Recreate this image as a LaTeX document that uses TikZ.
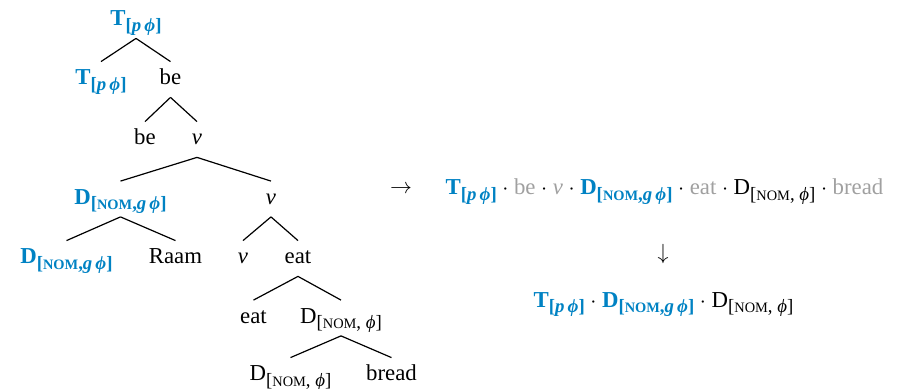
\documentclass[tikz,border=0pt]{standalone}
\usepackage{fontspec}
\setmainfont{Liberation Serif}
\definecolor{tblue}{RGB}{0,130,195}
\definecolor{tgray}{RGB}{160,160,160}
\newcommand\phig{ϕ}
\newcommand\subs[1]{\raisebox{-0.22em}{\fontsize{9.4}{10}\selectfont #1}}
\newcommand\scn[1]{{\fontsize{7.2}{8}\selectfont #1}}
\newcommand\Tp{\textcolor{tblue}{\textbf{T\subs{[\textit{p}\,\textit{\phig}]}}}}
\newcommand\Dng{\textcolor{tblue}{\textbf{D\subs{[\scn{NOM},\textit{g}\,\textit{\phig}]}}}}
\newcommand\Dn{D\subs{[\scn{NOM}, \textit{\phig}]}}
\newcommand\dt{\hspace{2.8pt}$\cdot$\hspace{2.8pt}}
\newcommand\gr[1]{\textcolor{tgray}{#1}}
\begin{document}
\begin{tikzpicture}[x=0.5pt,y=-0.5pt,
  font=\fontsize{11.4}{13.7}\selectfont,
  tn/.style={anchor=base, inner xsep=0pt, inner ysep=1.5pt, text height=10pt, text depth=4.5pt},
  txt/.style={anchor=base, inner sep=0pt},
  edge/.style={line width=0.6pt}]
\useasboundingbox (0,0) rectangle (907,389);
% tree
\node[tn] (r) at (136,26) {\Tp};
\node[tn] (a) at (101,85) {\Tp};
\node[tn] (b) at (170.5,85) {be};
\node[tn] (c) at (145,145) {be};
\node[tn] (d) at (197,145) {\textit{v}};
\node[tn] (e) at (120.5,204.5) {\Dng};
\node[tn] (f) at (271,204.5) {\textit{v}};
\node[tn] (g) at (66.5,264) {\Dng};
\node[tn] (h) at (175.5,264) {Raam};
\node[tn] (i) at (243,264) {\textit{v}};
\node[tn] (j) at (298,264) {eat};
\node[tn] (k) at (253.5,323.5) {eat};
\node[tn] (l) at (341,323.5) {\Dn};
\node[tn] (m) at (290.5,381) {\Dn};
\node[tn] (n) at (391.5,381) {bread};
\foreach \p/\c in {r/a,r/b,b/c,b/d,d/e,d/f,e/g,e/h,f/i,f/j,j/k,j/l,l/m,l/n}
  \draw[edge] (\p.south) -- (\c.north);
% right side
\node[txt] (arr1) at (401,194) {$\rightarrow$};
\node[txt] (row1) at (664.5,195) {\Tp\dt\gr{be}\dt\gr{\textit{v}}\dt\Dng\dt\gr{eat}\dt\Dn\dt\gr{bread}};
\node[txt] (arr2) at (663,260) {$\downarrow$};
\node[txt] (row2) at (663.5,307.5) {\Tp\dt\Dng\dt\Dn};
\end{tikzpicture}
\end{document}
